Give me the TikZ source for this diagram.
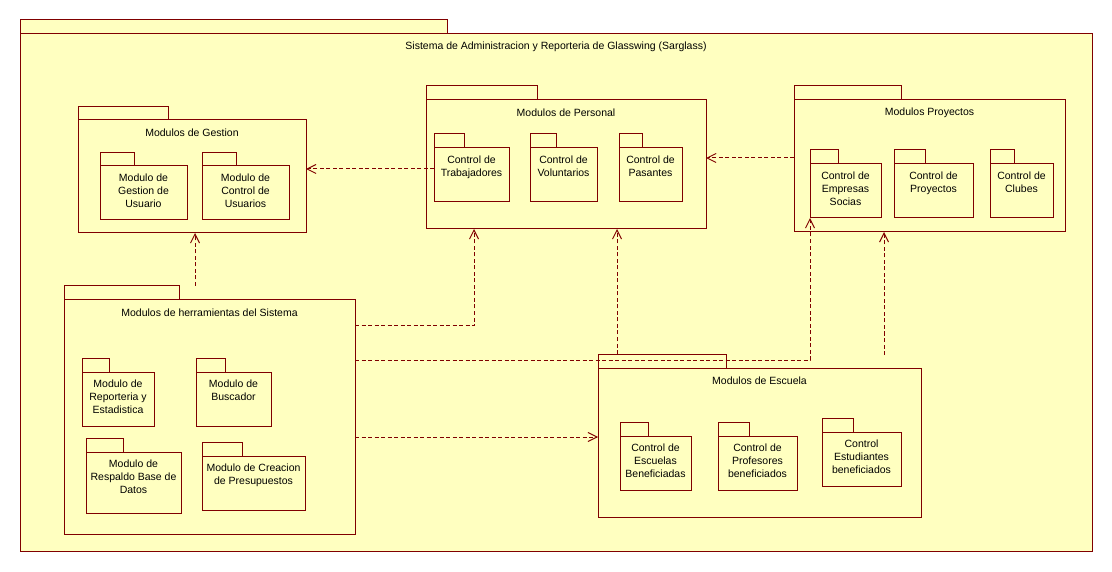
\documentclass[tikz,border=0pt]{standalone}
\usepackage{fontspec}
\setmainfont{Liberation Sans}
\usetikzlibrary{arrows.meta,calc}
\definecolor{pkgfill}{RGB}{255,255,192}
\definecolor{pkgline}{RGB}{128,0,0}
\tikzset{
  tabsty/.style={draw=pkgline,fill=pkgfill,line width=1pt,inner sep=0pt,outer sep=0pt,rectangle},
  bodysty/.style={draw=pkgline,fill=pkgfill,line width=1pt,inner sep=0pt,outer sep=0pt,rectangle},
  titlesty/.style={font=\fontsize{10.5}{12.7}\selectfont,inner sep=0pt,anchor=center},
  innertext/.style={font=\fontsize{10.5}{12.7}\selectfont,inner sep=0pt,align=center,anchor=north},
  dep/.style={draw=pkgline,line width=1pt,dash pattern=on 4pt off 2.5pt,-{Straight Barb[length=9pt,width=9pt,line width=1pt]}},
}
\newcommand\pkgtab[5]{%
  \node[tabsty,anchor=north west,minimum width={(#4-#2)*1pt},minimum height={(#5-#3)*1pt}] (#1) at (#2,#3) {};}
\newcommand\pkgbody[5]{%
  \node[bodysty,anchor=north west,minimum width={(#4-#2)*1pt},minimum height={(#5-#3)*1pt}] (#1) at (#2,#3) {};}
\begin{document}
\begin{tikzpicture}[x=1pt,y=-1pt]
\useasboundingbox[fill=white] (0,0) rectangle (1112,572);
% outer package
\pkgtab{systab}{20}{20}{447}{34}
\pkgbody{sys}{20}{34}{1092}{551}
\node[titlesty] at ([yshift=-13pt]sys.north) {Sistema de Administracion y Reporteria de Glasswing (Sarglass)};
% Modulos de Gestion
\pkgtab{gesttab}{78}{107}{168}{120}
\pkgbody{gest}{78}{120}{306}{233}
\node[titlesty] at ([yshift=-13pt]gest.north) {Modulos de Gestion};
\pkgtab{gutab}{100}{153}{134}{166}
\pkgbody{gu}{100}{166}{187}{220}
\node[innertext] at ([yshift=-8pt]gu.north) {Modulo de\\Gestion de\\Usuario};
\pkgtab{cutab}{202}{153}{236}{166}
\pkgbody{cu}{202}{166}{289}{220}
\node[innertext] at ([yshift=-8pt]cu.north) {Modulo de\\Control de\\Usuarios};
% Modulos de Personal
\pkgtab{perstab}{426}{86}{537}{100}
\pkgbody{pers}{426}{100}{706}{229}
\node[titlesty] at ([yshift=-13pt]pers.north) {Modulos de Personal};
\pkgtab{trabtab}{434}{134}{464}{148}
\pkgbody{trab}{434}{148}{509}{202}
\node[innertext] at ([yshift=-8pt]trab.north) {Control de\\Trabajadores};
\pkgtab{voltab}{530}{134}{556}{148}
\pkgbody{vol}{530}{148}{597}{202}
\node[innertext] at ([yshift=-8pt]vol.north) {Control de\\Voluntarios};
\pkgtab{pastab}{619}{134}{642}{148}
\pkgbody{pas}{619}{148}{682}{202}
\node[innertext] at ([yshift=-8pt]pas.north) {Control de\\Pasantes};
% Modulos Proyectos
\pkgtab{proytab}{794}{86}{901}{100}
\pkgbody{proy}{794}{100}{1065}{232}
\node[titlesty] at ([yshift=-13pt]proy.north) {Modulos Proyectos};
\pkgtab{emptab}{810}{150}{838}{164}
\pkgbody{emp}{810}{164}{881}{218}
\node[innertext] at ([yshift=-8pt]emp.north) {Control de\\Empresas\\Socias};
\pkgtab{cptab}{894}{150}{925}{164}
\pkgbody{cp}{894}{164}{973}{218}
\node[innertext] at ([yshift=-8pt]cp.north) {Control de\\Proyectos};
\pkgtab{clubtab}{990}{150}{1014}{164}
\pkgbody{club}{990}{164}{1053}{218}
\node[innertext] at ([yshift=-8pt]club.north) {Control de\\Clubes};
% Modulos de herramientas del Sistema
\pkgtab{herrtab}{64}{286}{179}{300}
\pkgbody{herr}{64}{300}{355}{534}
\node[titlesty] at ([yshift=-13pt]herr.north) {Modulos de herramientas del Sistema};
\pkgtab{reptab}{82}{358}{109}{372}
\pkgbody{rep}{82}{372}{154}{426}
\node[innertext] at ([yshift=-8pt]rep.north) {Modulo de\\Reporteria y\\Estadistica};
\pkgtab{bustab}{196}{358}{225}{372}
\pkgbody{bus}{196}{372}{271}{426}
\node[innertext] at ([yshift=-8pt]bus.north) {Modulo de\\Buscador};
\pkgtab{restab}{86}{438}{123}{452}
\pkgbody{res}{86}{452}{181}{513}
\node[innertext] at ([yshift=-8pt]res.north) {Modulo de\\Respaldo Base de\\Datos};
\pkgtab{cretab}{202}{442}{242}{456}
\pkgbody{cre}{202}{456}{305}{510}
\node[innertext] at ([yshift=-8pt]cre.north) {Modulo de Creacion\\de Presupuestos};
% Modulos de Escuela
\pkgtab{esctab}{598}{354}{726}{368}
\pkgbody{esc}{598}{368}{921}{517}
\node[titlesty] at ([yshift=-13pt]esc.north) {Modulos de Escuela};
\pkgtab{cetab}{620}{422}{648}{436}
\pkgbody{ce}{620}{436}{691}{490}
\node[innertext] at ([yshift=-8pt]ce.north) {Control de\\Escuelas\\Beneficiadas};
\pkgtab{prtab}{718}{422}{749}{436}
\pkgbody{pr}{718}{436}{797}{490}
\node[innertext] at ([yshift=-8pt]pr.north) {Control de\\Profesores\\beneficiados};
\pkgtab{esttab}{822}{418}{853}{432}
\pkgbody{est}{822}{432}{901}{486}
\node[innertext] at ([yshift=-8pt]est.north) {Control\\Estudiantes\\beneficiados};
% connectors
\coordinate (c1) at ([yshift=6pt]trab.west);
\draw[dep] (c1) -- (c1 -| gest.east);
\coordinate (c2) at ([yshift=8pt]proy.west);
\draw[dep] (c2) -- (c2 -| pers.east);
\coordinate (c3) at ([xshift=131pt]herrtab.north west);
\draw[dep] (c3) -- (c3 |- gest.south);
\coordinate (c4) at ([yshift=91pt]herr.east);
\coordinate (c4t) at ([xshift=-92pt]pers.south);
\draw[dep] (c4) -| (c4t);
\coordinate (c5) at ([yshift=57pt]herr.east);
\draw[dep] (c5) -| (emp.south west);
\coordinate (c6) at ([xshift=19pt]esctab.north west);
\draw[dep] (c6) -- (c6 |- pers.south);
\coordinate (c7) at ([xshift=-37pt,yshift=13pt]esc.north east);
\draw[dep] (c7) -- (c7 |- proy.south);
\coordinate (c8) at ([yshift=-20pt]herr.east);
\draw[dep] (c8) -- (c8 -| esc.west);
\end{tikzpicture}
\end{document}
